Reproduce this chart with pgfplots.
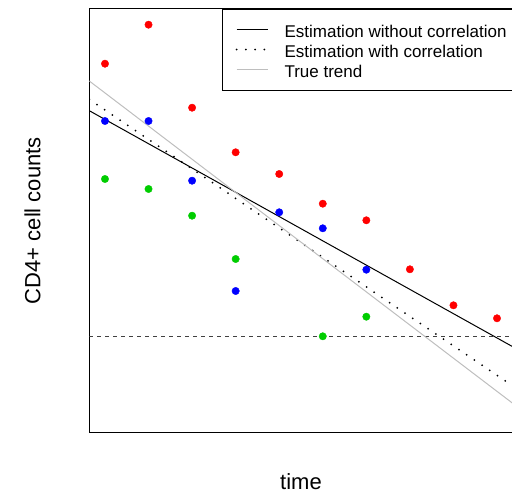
\documentclass[border=0pt]{standalone}
\usepackage{pgfplots}
\pgfplotsset{compat=1.18}
\usepackage{fontspec}
\setmainfont{Liberation Sans}
\definecolor{rred}{RGB}{255,0,0}
\definecolor{rblue}{RGB}{0,0,255}
\definecolor{rgreen}{RGB}{0,205,0}
\definecolor{rgray}{RGB}{190,190,190}

% observed counts per subject (time, value)
\pgfplotstableread{
t y
1 368.3
2 407.3
3 324.3
4 279.7
5 258.0
6 228.3
7 211.7
8 162.7
9 126.7
10 113.7
}\redpts
\pgfplotstableread{
t y
1 311.0
2 311.0
3 251.3
4 141.0
5 219.7
6 203.7
7 162.3
}\bluepts
\pgfplotstableread{
t y
1 253.0
2 243.0
3 216.3
4 173.0
6 95.7
7 115.3
}\greenpts

\begin{document}
\begin{tikzpicture}
\begin{axis}[
  scale only axis, width=423.4pt, height=423.3pt,
  at={(89.3pt,60.7pt)}, anchor=south west,
  xmin=0.64, xmax=10.36, ymin=-0.3, ymax=423,
  xtick=\empty, ytick=\empty,
  axis line style={line width=1pt},
  xlabel={time}, ylabel={CD4+ cell counts},
  every axis x label/.style={at={(axis description cs:0.5,0)}, anchor=base,
     yshift=-57.5pt, inner sep=0pt, font=\fontsize{22}{26}\selectfont},
  every axis y label/.style={at={(axis description cs:0,0.5)}, xshift=-56.8pt,
     rotate=90, anchor=center, font=\fontsize{22}{26}\selectfont},
  legend style={at={(1,1)}, anchor=north east, draw=black, line width=0.8pt,
     fill=white, inner xsep=5.7pt, inner ysep=10pt,
     font=\fontsize{17}{20}\selectfont, row sep=0pt, column sep=16pt,
     nodes={inner sep=0pt, text height=17.8pt, text depth=2.5pt}},
  legend cell align=left,
  legend image code/.code={\path (-7pt,0pt); \draw[#1] (0pt,0.3pt) -- (31pt,0.3pt);},
]
\addplot[only marks, mark=*, mark size=3.7pt, rred, forget plot] table {\redpts};
\addplot[only marks, mark=*, mark size=3.7pt, rblue, forget plot] table {\bluepts};
\addplot[only marks, mark=*, mark size=3.7pt, rgreen, forget plot] table {\greenpts};

\addplot[black!75, line width=1pt, dash pattern=on 4pt off 4pt, forget plot]
  coordinates {(0.64,95.3) (10.36,95.3)};

\addplot[black, line width=1pt] coordinates {(0.64,321.3) (10.36,85.3)};
\addlegendentry{Estimation without correlation}
\addplot[black, line width=2pt, line cap=round, dash pattern=on 0pt off 9.3pt]
  coordinates {(0.64,332.7) (10.36,46.0)};
\addlegendentry{Estimation with correlation}
\addplot[rgray, line width=1pt] coordinates {(0.64,351.0) (10.36,28.7)};
\addlegendentry{True trend}
\end{axis}
\pgfresetboundingbox
\useasboundingbox (0,0) rectangle (512pt,493pt);
\end{tikzpicture}
\end{document}
